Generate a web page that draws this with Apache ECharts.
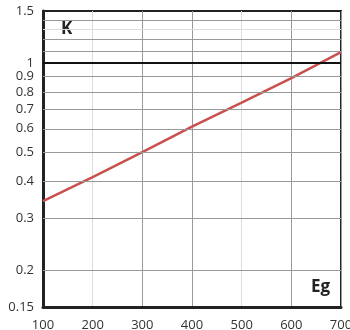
<!DOCTYPE html>
<html>
<head>
<meta charset="utf-8">
<script src="https://cdn.jsdelivr.net/npm/echarts@6/dist/echarts.min.js"></script>
<style>html,body{margin:0;padding:0;background:#fff;}#c{width:350px;height:330px;}</style>
</head>
<body>
<div id="c"></div>
<script>
var egValues = [100, 200, 300, 400, 500, 600, 700];
var kValues = [0.342, 0.412, 0.50, 0.61, 0.735, 0.89, 1.09];
var yTickLabels = [0.15, 0.2, 0.3, 0.4, 0.5, 0.6, 0.7, 0.8, 0.9, 1, 1.5];
var yGridDark = [0.2, 0.3, 0.4, 0.5, 0.6, 0.7, 0.8, 0.9, 1.1, 1.2, 1.4];
var yGridLight = [1.3];
var refLine = [1];

var FONT = '"Open Sans", "Noto Sans", sans-serif';
var chart = echarts.init(document.getElementById('c'), null, {renderer: 'canvas'});
chart.setOption({
  animation: false,
  grid: {left: 43, right: 9, top: 11, bottom: 23, show: true, borderColor: '#222', borderWidth: 2, backgroundColor: '#fff',
    containLabel: false, outerBoundsMode: 'none'},
  xAxis: {
    type: 'value', min: 100, max: 700, interval: 100,
    axisLine: {show: true, onZero: false, lineStyle: {color: '#222', width: 3}},
    axisTick: {show: false},
    axisLabel: {color: '#333', fontSize: 13, fontFamily: FONT, margin: 12,
      alignMinLabel: 'center', alignMaxLabel: 'center', hideOverlap: false},
    splitLine: {show: true, lineStyle: {color: ['#999', '#ddd', '#999'], width: 1}}
  },
  yAxis: {
    type: 'log', logBase: 10, min: 0.15, max: 1.5,
    axisLine: {show: true, lineStyle: {color: '#222', width: 3}},
    axisTick: {show: false},
    axisLabel: {color: '#333', fontSize: 13, fontFamily: FONT, margin: 9, customValues: yTickLabels,
      formatter: function (v) { return String(Math.round(v * 100) / 100); }},
    splitLine: {show: false},
    minorSplitLine: {show: false}
  },
  series: [
    {
      type: 'line', silent: true, data: [], symbol: 'none',
      markLine: {
        silent: true, symbol: 'none', label: {show: false}, animation: false,
        data: yGridDark.map(function (v) { return {yAxis: v, lineStyle: {color: '#999', width: 1, type: 'solid'}}; })
          .concat(yGridLight.map(function (v) { return {yAxis: v, lineStyle: {color: '#ddd', width: 1, type: 'solid'}}; }))
          .concat(refLine.map(function (v) { return {yAxis: v, lineStyle: {color: '#111', width: 2, type: 'solid'}}; }))
      }
    },
    {
      type: 'line', name: 'K', symbol: 'none', smooth: false,
      data: egValues.map(function (x, i) { return [x, kValues[i]]; }),
      lineStyle: {color: '#c9504d', width: 2.5}
    }
  ],
  graphic: [
    {type: 'text', left: 61, top: 21, style: {text: 'K', font: 'bold 17px ' + FONT, fill: '#222'}},
    {type: 'text', left: 311, top: 279, style: {text: 'Eg', font: 'bold 17px ' + FONT, fill: '#222'}}
  ]
});
</script>
</body>
</html>
